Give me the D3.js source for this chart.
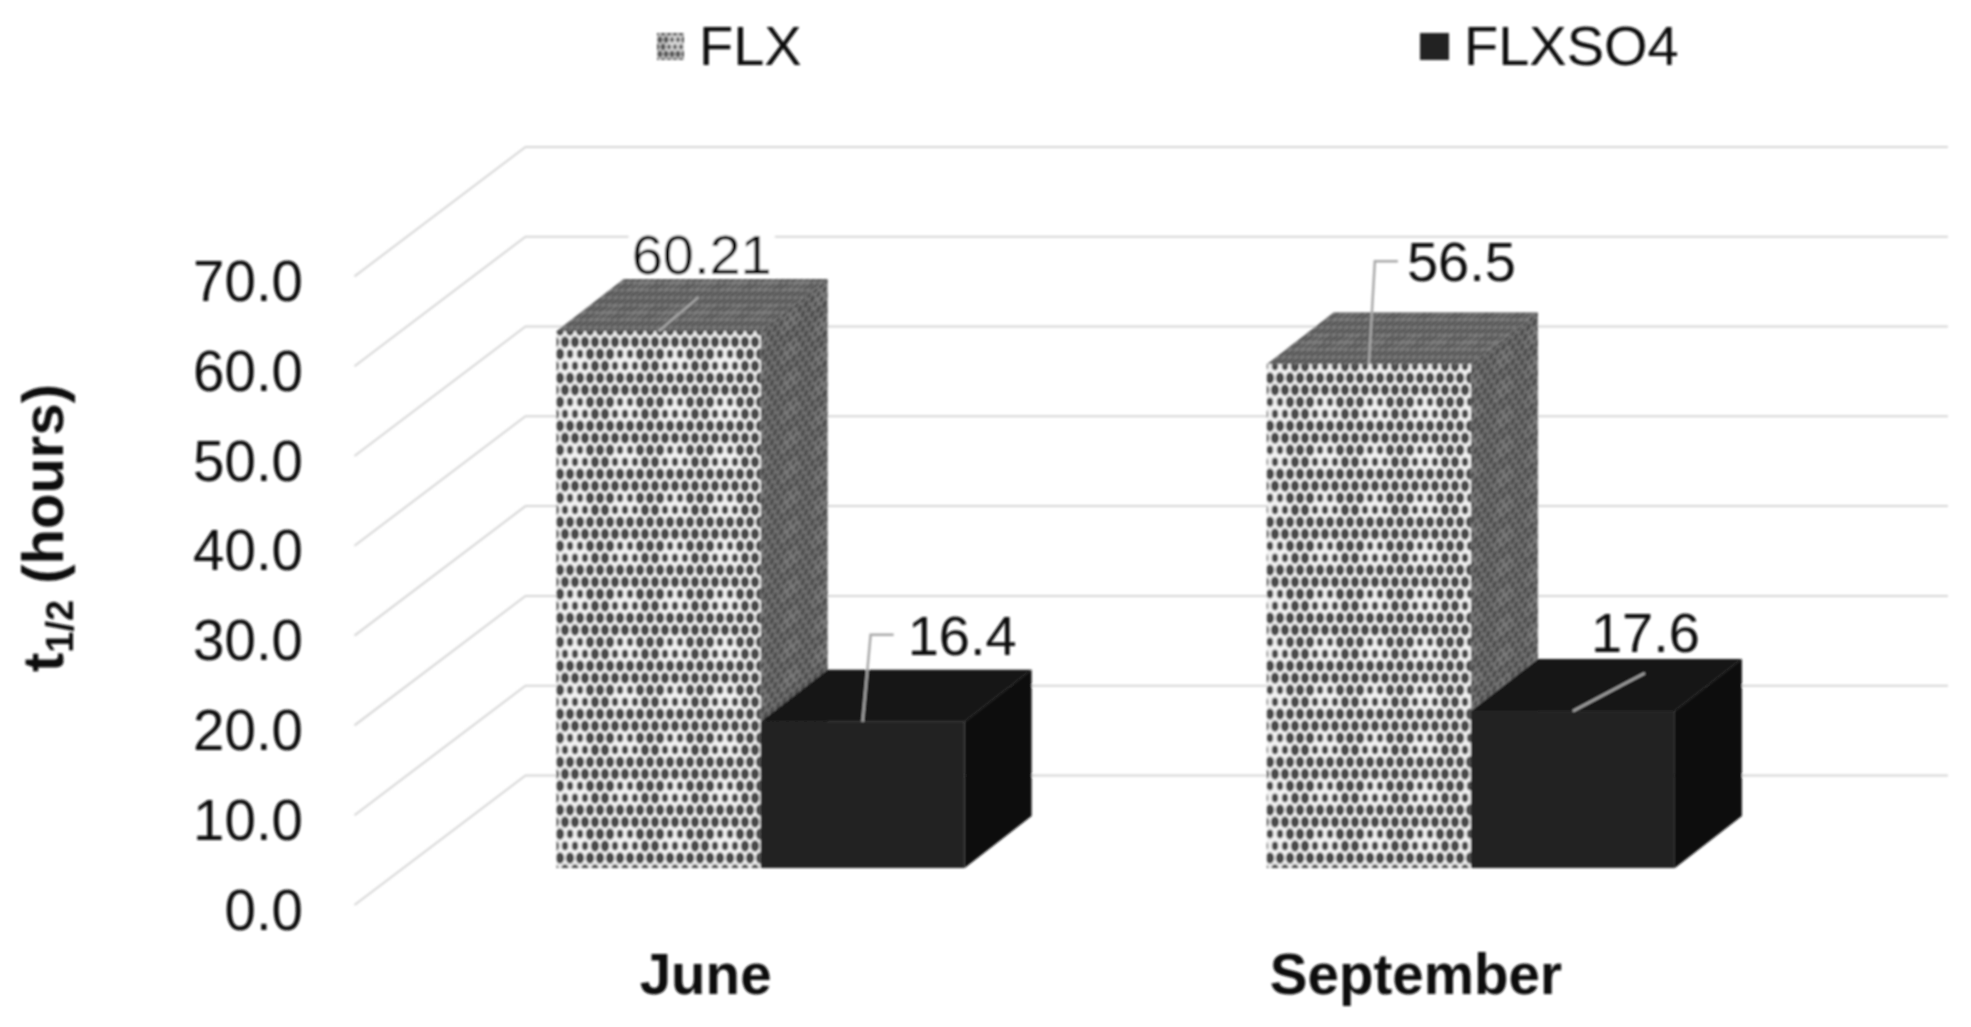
<!DOCTYPE html>
<html>
<head>
  <meta charset="UTF-8">
  <title>t1/2 by month</title>
  <script src="https://d3js.org/d3.v7.min.js"></script>
  <style>
    html, body { margin: 0; background: #fff; }
    svg { display: block; }
    text { font-family: "Liberation Sans", Arial, sans-serif; fill: #111; }
  </style>
</head>
<body>
<svg width="1971" height="1027"></svg>
<script>
  // Values
  const months = ['June', 'September'];
  const seriesNames = ['FLX', 'FLXSO4'];
  const flx = [60.21, 56.5];
  const flxso4 = [16.4, 17.6];
  const yTicks = [0, 10, 20, 30, 40, 50, 60, 70];
  const labelText = [['60.21', '56.5'], ['16.4', '17.6']];

  const svg = d3.select('svg');
  const defs = svg.append('defs');

  // Soft edges like the scanned original
  defs.append('filter').attr('id', 'soft')
    .append('feGaussianBlur').attr('stdDeviation', 0.85);

  // Hex mesh tile: staggered rows, dots shrink near the tile centre for the coarse banding
  function meshPattern(id, bg, dot, transform) {
    const w = 50, h = 48;
    const p = defs.append('pattern')
      .attr('id', id)
      .attr('patternUnits', 'userSpaceOnUse')
      .attr('width', w)
      .attr('height', h);
    if (transform) p.attr('patternTransform', transform);
    p.append('rect').attr('width', w).attr('height', h).attr('fill', bg);
    for (let r = 0; r < 4; r++) {
      for (let c = 0; c < 6; c++) {
        const cx = c * 10 + (r % 2 ? 0 : 5), cy = r * 12 + 6;
        const near = Math.hypot(cx - w / 2, cy - h / 2) < 14;
        p.append('ellipse')
          .attr('cx', cx)
          .attr('cy', cy)
          .attr('rx', near ? 3.2 : 4.2)
          .attr('ry', near ? 4.4 : 5.7)
          .attr('fill', dot);
      }
    }
  }
  meshPattern('flxFront', '#f2f2f2', '#4a4a4a');
  meshPattern('flxTop', '#7e7e7e', '#565656', 'skewX(-52) scale(0.62)');
  meshPattern('flxSide', '#7c7c7c', '#4e4e4e', 'skewY(-38) scale(0.62)');
  meshPattern('flxLegend', '#dddddd', '#555555', 'scale(0.6)');

  // Chart geometry
  const wallDx = 171, wallDy = -129.5;
  const floorDx = 51, floorDy = -37;
  const depthDx = 67, depthDy = -52;
  const gridRight = 1948;
  const barWidth = 204;
  const barScale = 0.993; // bars stand a little further back than the axis plane

  const x = d3.scaleBand().domain(months).range([354.5, 1775]);
  const y = d3.scaleLinear().domain([0, 70]).range([905, 276.4]);
  const inner = d3.scaleBand().domain(seriesNames).range([-barWidth, barWidth]);

  const root = svg.append('g').attr('filter', 'url(#soft)');

  // Gridlines run up the side wall and then along the back wall
  const line = d3.line();
  root.append('g').selectAll('path')
    .data(yTicks)
    .enter()
    .append('path')
    .attr('d', d => line([
      [x.range()[0], y(d)],
      [x.range()[0] + wallDx, y(d) + wallDy],
      [gridRight, y(d) + wallDy]
    ]))
    .attr('fill', 'none')
    .attr('stroke', '#d6d6d6')
    .attr('stroke-width', 2);

  // Axes
  const yAxis = root.append('g')
    .attr('transform', 'translate(306, 6)')
    .call(d3.axisLeft(y).tickValues(yTicks).tickSize(0).tickFormat(d => d.toFixed(1)));
  yAxis.select('.domain').remove();
  yAxis.selectAll('text').attr('font-size', 56.5).attr('fill', '#111');

  const xAxis = root.append('g')
    .attr('transform', 'translate(-4, 951)')
    .call(d3.axisBottom(x).tickSize(0));
  xAxis.select('.domain').remove();
  xAxis.selectAll('text').attr('font-size', 56.5).attr('font-weight', 'bold').attr('fill', '#111');

  // Y title
  const title = root.append('text')
    .attr('transform', 'translate(63, 528) rotate(-90)')
    .attr('text-anchor', 'middle')
    .attr('font-size', 58)
    .attr('font-weight', 'bold');
  title.append('tspan').text('t');
  title.append('tspan').attr('font-size', 38).attr('dy', 10).text('1/2');
  title.append('tspan').attr('dy', -10).text(' (hours)');

  // 3D bars, one box per value
  const faces = [
    { front: 'url(#flxFront)', top: 'url(#flxTop)', side: 'url(#flxSide)' },
    { front: '#232323', top: '#141414', side: '#111111' }
  ];
  const values = [flx, flxso4];
  const base = y(0) + floorDy;
  const bars = root.append('g');

  function box(s, m) {
    const left = x(months[m]) + x.bandwidth() / 2 + floorDx + inner(seriesNames[s]);
    const top = base - (y(0) - y(values[s][m])) * barScale;
    const right = left + barWidth;
    const g = bars.append('g');
    g.append('path')
      .attr('d', line([[right, top], [right + depthDx, top + depthDy], [right + depthDx, base + depthDy], [right, base]]) + 'Z')
      .attr('fill', faces[s].side);
    g.append('path')
      .attr('d', line([[left, top], [left + depthDx, top + depthDy], [right + depthDx, top + depthDy], [right, top]]) + 'Z')
      .attr('fill', faces[s].top);
    g.append('rect')
      .attr('x', left)
      .attr('y', top)
      .attr('width', barWidth)
      .attr('height', base - top)
      .attr('fill', faces[s].front);
    return { cx: left + barWidth / 2, top };
  }

  // Leader line shapes and label spots relative to each bar top, by series then month
  const leaders = [
    [{ pts: [[40, -34]], tx: -27, ty: -57 }, { pts: [[6, -103], [29, -103]], tx: 38, ty: -83 }],
    [{ pts: [[8, -87], [31, -87]], tx: 45, ty: -67 }, { pts: [[72, -38]], tx: 18, ty: -59 }]
  ];

  const labelJobs = [];
  seriesNames.forEach((name, s) => {
    months.forEach((month, m) => {
      labelJobs.push({ b: box(s, m), s, m });
    });
  });

  labelJobs.forEach(({ b, s, m }) => {
    const lead = leaders[s][m];
    root.append('path')
      .attr('d', line([[b.cx, b.top]].concat(lead.pts.map(p => [b.cx + p[0], b.top + p[1]]))))
      .attr('fill', 'none')
      .attr('stroke', '#a8a8a8')
      .attr('stroke-width', 2.5);
    const label = root.append('text')
      .attr('x', b.cx + lead.tx)
      .attr('y', b.top + lead.ty)
      .attr('font-size', 56)
      .text(labelText[s][m]);
    // the first label sits on a gridline, which stops short of the digits
    if (s === 0 && m === 0) {
      const box = label.node().getBBox();
      root.insert('rect', () => label.node())
        .attr('x', box.x - 3)
        .attr('y', box.y + 8)
        .attr('width', box.width + 6)
        .attr('height', box.height - 18)
        .attr('fill', '#fff');
    }
  });

  // Legend
  const legendX = [657, 1420];
  const legendTextX = [699, 1464];
  const legendFill = ['url(#flxLegend)', faces[1].front];
  const legend = root.append('g').selectAll('g')
    .data(seriesNames)
    .enter()
    .append('g');
  legend.append('rect')
    .attr('x', (d, i) => legendX[i])
    .attr('y', 33)
    .attr('width', (d, i) => i ? 29 : 27)
    .attr('height', 27)
    .attr('fill', (d, i) => legendFill[i]);
  legend.append('text')
    .attr('x', (d, i) => legendTextX[i])
    .attr('y', 65)
    .attr('font-size', 56)
    .text(d => d);
</script>
</body>
</html>
